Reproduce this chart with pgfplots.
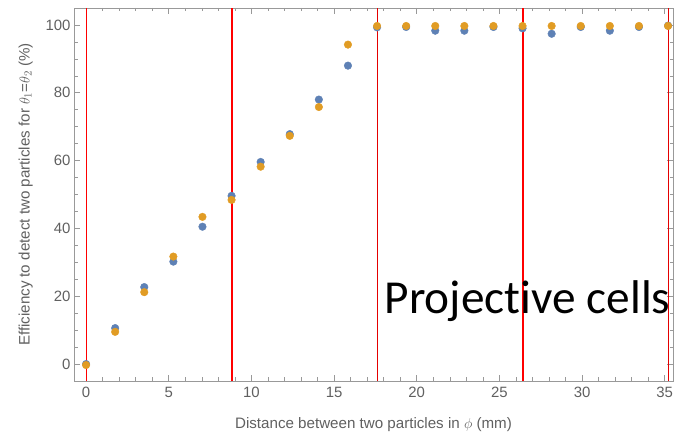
\documentclass[border=0pt]{standalone}
\usepackage{pgfplots}
\pgfplotsset{compat=1.18}
\usepackage{fontspec}
\setmainfont{Liberation Sans}
\newfontfamily\carlito[RawFeature={-liga}]{Carlito}
\definecolor{mblue}{HTML}{5E81B5}
\definecolor{morange}{HTML}{E19C24}
\definecolor{framegray}{HTML}{999999}
\definecolor{labgray}{HTML}{606060}
\begin{document}
\begin{tikzpicture}
\useasboundingbox (0,0) rectangle (674bp,432bp);
\begin{axis}[
  at={(74bp,51bp)}, anchor=south west,
  scale only axis, width=599bp, height=373bp,
  xmin=-0.73, xmax=35.5, ymin=-5, ymax=105,
  xtick={0,5,...,35}, ytick={0,20,...,100},
  minor x tick num=4, minor y tick num=3,
  tick align=inside,
  major tick length=6bp, minor tick length=3.5bp,
  axis line style={framegray, line width=0.8bp},
  every tick/.style={framegray, line width=0.6bp},
  tick label style={font=\fontsize{15}{17}\selectfont, text=labgray},
  xticklabel style={yshift=-3bp},
  label style={font=\fontsize{15.2}{17}\selectfont, text=labgray},
  /pgf/number format/assume math mode=true,
  xlabel={Distance between two particles in $\phi$ (mm)},
  ylabel={Efficiency to detect two particles for $\theta_1$=$\theta_2$ (\%)},
  xlabel style={yshift=-13bp},
  ylabel style={yshift=6bp},
  clip=false,
]
\addplot[red, line width=0.8bp] coordinates {(0,-5) (0,105)};
\addplot[red, line width=2bp] coordinates {(8.8,-5) (8.8,105)};
\addplot[red!90!black, line width=0.8bp] coordinates {(17.6,-5) (17.6,105)};
\addplot[red, line width=2bp] coordinates {(26.4,-5) (26.4,105)};
\addplot[red!90!black, line width=0.8bp] coordinates {(35.2,-5) (35.2,105)};
\addplot[only marks, mark=*, mark size=3.8bp, mblue, mark options={draw=none, fill=mblue}] coordinates {
(0,0) (1.76,10.6) (3.52,22.7) (5.28,30.2) (7.04,40.5) (8.8,49.6) (10.56,59.6) (12.32,67.8) (14.08,78.0) (15.84,88.0)
(17.6,99.3) (19.36,99.4) (21.12,98.3) (22.88,98.3) (24.64,99.4) (26.4,99.0) (28.16,97.4) (29.92,99.4) (31.68,98.3) (33.44,99.4) (35.2,99.8)
};
\addplot[only marks, mark=*, mark size=3.8bp, morange, mark options={draw=none, fill=morange}] coordinates {
(0,-0.3) (1.76,9.5) (3.52,21.2) (5.28,31.7) (7.04,43.4) (8.8,48.4) (10.56,58.2) (12.32,67.3) (14.08,75.8) (15.84,94.2)
(17.6,99.7) (19.36,99.7) (21.12,99.7) (22.88,99.7) (24.64,99.7) (26.4,99.7) (28.16,99.7) (29.92,99.7) (31.68,99.7) (33.44,99.7) (35.2,99.7)
};
\node[anchor=base west, inner sep=0pt, font=\carlito\fontsize{47.5}{50}\selectfont] at (axis cs:18.05,15) {Projective cells};
\end{axis}
\end{tikzpicture}
\end{document}
